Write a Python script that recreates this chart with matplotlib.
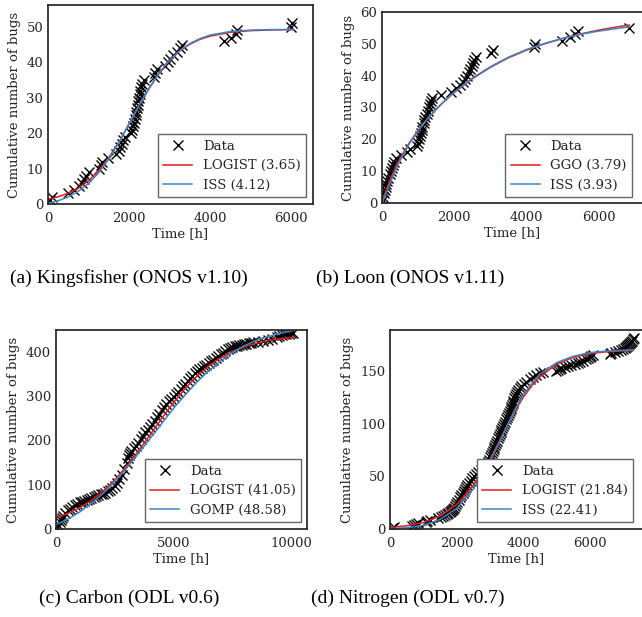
import numpy as np
import matplotlib
matplotlib.use("Agg")
import matplotlib.pyplot as plt

plt.rcParams['font.family'] = ['DejaVu Serif']
plt.rcParams['font.size'] = 9.5

W, H = 642, 617
RED = '#e41a1c'
BLUE = '#3a87c4'
DARK = '#262626'

# (a) Kingsfisher (ONOS v1.10)
a_t = [60, 100, 500, 640, 760, 840, 900, 950, 1000, 1270, 1300, 1330, 1480, 1680, 1750,
       1790, 1830, 1860, 1890, 2040, 2080, 2110, 2130, 2150, 2165, 2180, 2195, 2210, 2225,
       2240, 2260, 2280, 2300, 2330, 2360, 2620, 2650, 2680, 2900, 2960, 3020, 3080, 3180,
       3260, 3310, 4350, 4510, 4640, 4660, 6000, 6030]
a_n = list(range(1, 52))
a_ct = [0, 250, 500, 750, 1000, 1250, 1500, 1750, 2000, 2250, 2500, 2750, 3000, 3250,
        3500, 3750, 4000, 4500, 5000, 5500, 6050]
a_logist = [1.35, 2.04, 3.04, 4.51, 6.58, 9.41, 13.1, 17.5, 22.6, 27.8, 32.7, 37.0, 40.5,
            43.2, 45.1, 46.5, 47.4, 48.5, 48.95, 49.15, 49.25]
a_iss = [0.3, 0.9, 2.0, 3.6, 5.8, 8.8, 12.7, 17.4, 22.6, 27.9, 32.8, 37.1, 40.6, 43.3,
         45.3, 46.7, 47.7, 48.7, 49.1, 49.25, 49.3]

# (b) Loon (ONOS v1.11)
b_t = [20, 40, 60, 80, 100, 120, 150, 180, 230, 260, 290, 310, 340, 400, 520, 690, 780,
       980, 1000, 1030, 1060, 1080, 1100, 1120, 1150, 1170, 1200, 1240, 1270, 1300, 1330,
       1350, 1380, 1640, 1900, 2050, 2150, 2230, 2300, 2350, 2400, 2440, 2480, 2520, 2560,
       2600, 3020, 3080, 4200, 4230, 5000, 5200, 5350, 5420, 6850]
b_n = list(range(1, 56))
b_ct = [0, 100, 200, 300, 400, 500, 750, 1000, 1250, 1500, 1750, 2000, 2500, 3000, 3500,
        4000, 4500, 5000, 5500, 6000, 6500, 6850]
b_ggo = [0, 3.5, 6.6, 9.3, 11.8, 14.0, 18.8, 22.8, 26.3, 29.4, 32.2, 34.7, 39.0, 42.6,
         45.6, 48.0, 50.0, 51.7, 53.1, 54.3, 55.3, 55.9]
b_iss = [0, 2.6, 5.5, 8.3, 10.9, 13.3, 18.5, 22.7, 26.3, 29.5, 32.3, 34.8, 39.2, 42.8,
         45.8, 48.2, 50.1, 51.7, 53.0, 54.0, 54.8, 55.3]

# (c) Carbon (ODL v0.6)
c_t = [50, 100, 150, 200, 250, 300, 400, 500, 600, 700, 800, 900, 1000, 1100, 1200, 1300,
       1400, 1500, 1600, 1700, 1800, 1900, 2000, 2100, 2200, 2300, 2400, 2500, 2600, 2700,
       2800, 2900, 3000, 3050, 3100, 3150, 3200, 3300, 3400, 3500, 3600, 3700, 3800, 3900,
       4000, 4100, 4200, 4300, 4400, 4500, 4600, 4700, 4800, 4900, 5000, 5100, 5200, 5300,
       5400, 5500, 5600, 5700, 5800, 5900, 6000, 6100, 6200, 6300, 6400, 6500, 6600, 6700,
       6800, 6900, 7000, 7100, 7200, 7300, 7400, 7500, 7600, 7700, 7800, 7900, 8000, 8100,
       8200, 8300, 8400, 8600, 8800, 9000, 9200, 9400, 9500, 9600, 9700, 9800, 9900, 10000,
       10100]
c_n = [2, 8, 15, 20, 25, 30, 36, 42, 46, 50, 54, 57, 60, 62, 64, 66, 68, 70, 72, 74, 76,
       78, 80, 82, 85, 88, 93, 98, 104, 112, 122, 135, 150, 160, 168, 172, 176, 182, 188,
       194, 202, 210, 218, 224, 230, 237, 244, 252, 260, 268, 275, 282, 288, 293, 298, 304,
       310, 316, 322, 328, 334, 340, 346, 351, 356, 360, 364, 368, 371, 374, 378, 382, 386,
       390, 394, 398, 402, 406, 409, 411, 413, 414, 415, 416, 417, 418, 419, 420, 421, 422,
       424, 426, 429, 433, 436, 438, 439, 440, 441, 442, 443]
c_ct = [0, 500, 1000, 1500, 2000, 2500, 3000, 3500, 4000, 4500, 5000, 5500, 6000, 6500,
        7000, 7500, 8000, 8500, 9000, 9500, 10000, 10100]
c_logist = [25.4, 35.0, 47.7, 64.1, 85, 110.8, 141, 175.7, 212, 249.7, 285, 317.5, 345,
            368, 386, 400.4, 411, 419, 425, 429.1, 432, 432.5]
c_gomp = [10, 22, 38, 58, 80, 107, 137, 170, 204, 238, 272, 303, 332, 357, 379, 398, 413,
          425, 434, 441, 447, 448]

# (d) Nitrogen (ODL v0.7)
d_t = [50, 120, 650, 720, 780, 850, 1080, 1120, 1200, 1450, 1520, 1580, 1650, 1700, 1750,
       1790, 1830, 1870, 1900, 1930, 1960, 1990, 2020, 2060, 2100, 2140, 2180, 2220, 2250,
       2280, 2320, 2370, 2420, 2470, 2530, 2590, 2650, 2720, 2790, 2850, 2900, 2940, 2970,
       3000, 3030, 3060, 3090, 3110, 3130, 3160, 3190, 3220, 3240, 3260, 3290, 3320, 3340,
       3370, 3400, 3430, 3460, 3490, 3520, 3550, 3570, 3600, 3620, 3640, 3660, 3680, 3700,
       3730, 3760, 3790, 3820, 3860, 3900, 3950, 4020, 4100, 4200, 4300, 4400, 4500, 4600,
       5000, 5050, 5100, 5150, 5250, 5350, 5450, 5550, 5650, 5700, 5800, 5900, 5950, 6000,
       6050, 6100, 6600, 6650, 6750, 6850, 6950, 7000, 7050, 7100, 7120, 7150, 7180, 7200,
       7230, 7260, 7290, 7320]
d_n = [1, 2, 3, 4, 5, 6, 7, 8, 9, 10, 11, 12, 13, 14, 15, 16, 17, 18, 19, 20, 22, 24, 26,
       28, 30, 32, 34, 36, 38, 40, 42, 44, 46, 48, 50, 52, 54, 56, 58, 60, 62, 64, 66, 68,
       70, 72, 74, 76, 78, 80, 82, 84, 86, 88, 90, 92, 94, 96, 98, 100, 102, 104, 106, 108,
       110, 112, 114, 116, 118, 120, 122, 124, 126, 128, 130, 132, 134, 136, 138, 140, 142,
       144, 146, 148, 149, 150, 151, 152, 153, 154, 155, 156, 157, 158, 159, 160, 161, 162,
       163, 164, 165, 166, 167, 168, 169, 170, 171, 172, 173, 174, 175, 176, 177, 178, 179,
       180, 181]
d_ct = [0, 500, 1000, 1500, 2000, 2500, 3000, 3250, 3500, 3750, 4000, 4250, 4500, 5000,
        5500, 6000, 6500, 7000, 7300]
d_logist = [1.5, 3.05, 6.1, 12.1, 23.1, 41.4, 66, 81.5, 97, 112, 124.9, 135.8, 144.5,
            156.5, 163.1, 166.6, 168.3, 169.2, 169.5]
d_iss = [0.4, 1.2, 3.5, 9, 19.5, 38, 64, 80, 97, 113, 127, 138, 147, 158, 164, 167.5,
         169, 169.8, 170]

# box = axes (left, top, right, bottom) in px, leg = legend (right, bottom) in px
panels = [
    dict(box=(48, 5, 313, 204), leg=(306, 197), xlim=6543, ylim=56.2,
         xt=[0, 2000, 4000, 6000], yt=[0, 10, 20, 30, 40, 50],
         t=a_t, n=a_n, ct=a_ct, r=a_logist, b=a_iss,
         rl='LOGIST (3.65)', bl='ISS (4.12)', cap='(a) Kingsfisher (ONOS v1.10)', cx=129, cy=278),
    dict(box=(382, 12, 643, 203), leg=(632, 197), xlim=7230, ylim=60,
         xt=[0, 2000, 4000, 6000], yt=[0, 10, 20, 30, 40, 50, 60],
         t=b_t, n=b_n, ct=b_ct, r=b_ggo, b=b_iss,
         rl='GGO (3.79)', bl='ISS (3.93)', cap='(b) Loon (ONOS v1.11)', cx=410, cy=278),
    dict(box=(56, 330, 307, 529), leg=(301, 522), xlim=10680, ylim=449,
         xt=[0, 5000, 10000], yt=[0, 100, 200, 300, 400],
         t=c_t, n=c_n, ct=c_ct, r=c_logist, b=c_gomp,
         rl='LOGIST (41.05)', bl='GOMP (48.58)', cap='(c) Carbon (ODL v0.6)', cx=129, cy=598),
    dict(box=(390, 330, 643, 529), leg=(633, 522), xlim=7600, ylim=189,
         xt=[0, 2000, 4000, 6000], yt=[0, 50, 100, 150],
         t=d_t, n=d_n, ct=d_ct, r=d_logist, b=d_iss,
         rl='LOGIST (21.84)', bl='ISS (22.41)', cap='(d) Nitrogen (ODL v0.7)', cx=408, cy=598),
]

fig = plt.figure(figsize=(W / 100, H / 100), dpi=100)

for p in panels:
    l, t, r, b = p['box']
    ax = fig.add_axes([l / W, 1 - b / H, (r - l) / W, (b - t) / H])
    ax.plot(p['t'], p['n'], 'x', color='black', ms=6.5, mew=1.0, label='Data')
    ax.plot(p['ct'], p['r'], color=RED, lw=1.1, label=p['rl'])
    ax.plot(p['ct'], p['b'], color=BLUE, lw=1.1, label=p['bl'])
    ax.set_xlim(0, p['xlim'])
    ax.set_ylim(0, p['ylim'])
    ax.set_xticks(p['xt'])
    ax.set_yticks(p['yt'])
    ax.tick_params(length=0, colors=DARK, labelsize=9.5)
    ax.tick_params(axis='x', pad=6)
    ax.tick_params(axis='y', pad=3.5)
    for s in ax.spines.values():
        s.set_color(DARK)
        s.set_linewidth(1.25)
    ax.set_xlabel('Time [h]', color=DARK, labelpad=1.5)
    ax.set_ylabel('Cumulative number of bugs', color=DARK, labelpad=4)
    lx, ly = p['leg']
    leg = ax.legend(loc='lower right', bbox_to_anchor=((lx - l) / (r - l), (b - ly) / (b - t)),
                    numpoints=1, fancybox=False, framealpha=1, borderaxespad=0,
                    handlelength=2.2, fontsize=9.5)
    leg.get_frame().set_edgecolor('#666666')
    leg.get_frame().set_linewidth(1.0)
    for txt in leg.get_texts():
        txt.set_color(DARK)
    fig.text(p['cx'] / W, 1 - p['cy'] / H, p['cap'], ha='center', va='center',
             family='Liberation Serif', fontsize=14, color='black')

fig.savefig('out.png', dpi=100)
